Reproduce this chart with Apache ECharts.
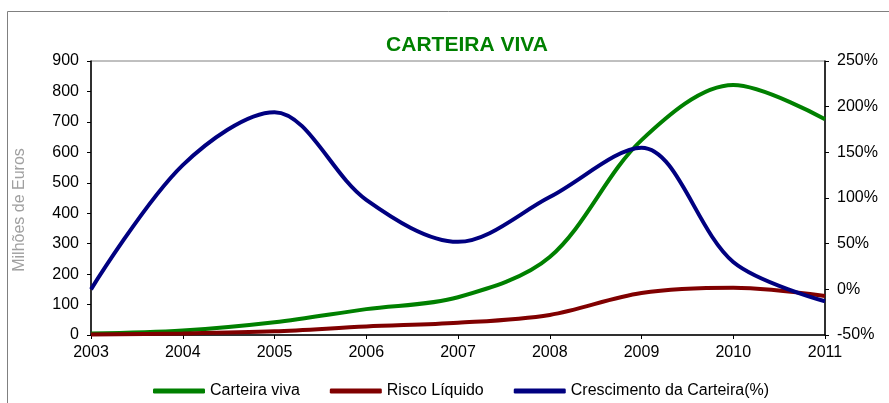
<!DOCTYPE html>
<html>
<head>
<meta charset="utf-8">
<script src="https://cdn.jsdelivr.net/npm/echarts@6/dist/echarts.min.js"></script>
<style>
  html, body { margin: 0; padding: 0; background: #fff; }
  #chart { width: 889px; height: 403px; }
</style>
</head>
<body>
<div id="chart"></div>
<script>
const years = ['2003', '2004', '2005', '2006', '2007', '2008', '2009', '2010', '2011']
const carteiraViva = [5, 15, 42, 85, 124, 256, 640, 821, 709]
const riscoLiquido = [2, 5, 12, 28, 40, 66, 138, 155, 128]
const crescimento = [0, 136, 194, 98, 52, 101, 155, 30, -13]

const chart = echarts.init(document.getElementById('chart'))

chart.setOption({
  animation: false,
  textStyle: { fontFamily: 'Arial, "Liberation Sans", sans-serif' },
  graphic: [
    {
      type: 'rect',
      z: -10,
      shape: { x: 7.5, y: 11.5, width: 1000, height: 500 },
      style: { fill: 'none', stroke: '#808080', lineWidth: 1 }
    },
    {
      // axis name, placed by hand as in the original (a bit below centre)
      type: 'text',
      x: 20, y: 210,
      rotation: Math.PI / 2,
      style: {
        text: 'Milhões de Euros',
        fill: '#a0a0a0',
        font: '16px Arial, "Liberation Sans", sans-serif',
        textAlign: 'center',
        textVerticalAlign: 'middle'
      }
    }
  ],
  title: {
    text: 'CARTEIRA VIVA',
    left: 462,
    textAlign: 'center',
    top: 30,
    textStyle: { color: '#008000', fontSize: 21, fontWeight: 'bold' }
  },
  grid: {
    left: 91, right: 64, top: 61, bottom: 68,
    show: true, borderColor: '#808080', borderWidth: 1
  },
  legend: {
    left: 148,
    top: 378,
    itemWidth: 52,
    itemHeight: 5,
    itemGap: 30,
    icon: 'roundRect',
    textStyle: { fontSize: 16, color: '#000' },
    data: ['Carteira viva', 'Risco Líquido', 'Crescimento da Carteira(%)']
  },
  xAxis: {
    type: 'category',
    data: years,
    boundaryGap: false,
    axisLine: { lineStyle: { color: '#000', width: 1.5 } },
    axisTick: { length: 4, lineStyle: { color: '#000' } },
    axisLabel: { fontSize: 16, color: '#000', margin: 10 }
  },
  yAxis: [
    {
      type: 'value',
      min: 0, max: 900, interval: 100,
      axisLine: { show: true, lineStyle: { color: '#000', width: 1.5 } },
      axisTick: { show: true, length: 4, lineStyle: { color: '#000' } },
      axisLabel: { fontSize: 16, color: '#000', margin: 12 },
      splitLine: { show: false }
    },
    {
      type: 'value',
      min: -50, max: 250, interval: 50,
      axisLine: { show: true, lineStyle: { color: '#000', width: 1.5 } },
      axisTick: { show: true, length: 4, lineStyle: { color: '#000' } },
      axisLabel: { fontSize: 16, color: '#000', margin: 12, formatter: '{value}%' },
      splitLine: { show: false }
    }
  ],
  series: [
    {
      name: 'Carteira viva',
      type: 'line',
      data: carteiraViva,
      smooth: 0.33,
      showSymbol: false,
      color: '#008000',
      lineStyle: { width: 4 }
    },
    {
      name: 'Risco Líquido',
      type: 'line',
      data: riscoLiquido,
      smooth: 0.33,
      showSymbol: false,
      color: '#800000',
      lineStyle: { width: 4 }
    },
    {
      name: 'Crescimento da Carteira(%)',
      type: 'line',
      yAxisIndex: 1,
      data: crescimento,
      smooth: 0.33,
      showSymbol: false,
      color: '#000080',
      lineStyle: { width: 4 }
    }
  ]
})
</script>
</body>
</html>
